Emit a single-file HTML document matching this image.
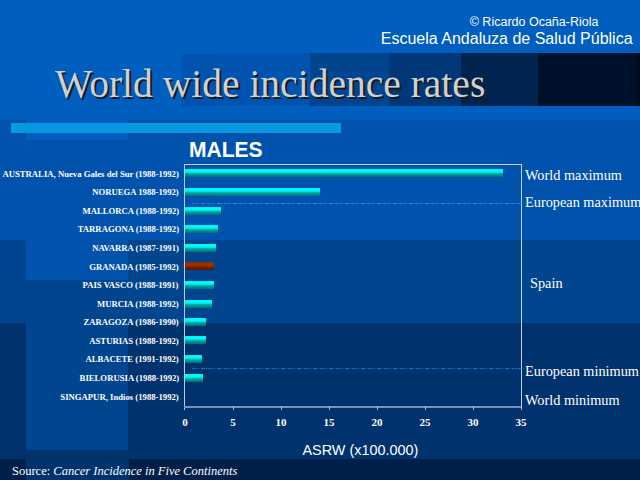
<!DOCTYPE html>
<html><head><meta charset="utf-8">
<style>
*{margin:0;padding:0;box-sizing:border-box}
html,body{width:640px;height:480px;overflow:hidden;background:#005EBE}
body{position:relative;font-family:"Liberation Sans",sans-serif}
.b{position:absolute}
.t{position:absolute;white-space:nowrap;line-height:1;color:#fff}
.serif{font-family:"Liberation Serif",serif}
.lbl{position:absolute;right:461px;white-space:nowrap;line-height:1;color:#fff;font-family:"Liberation Serif",serif;font-weight:bold;font-size:9px;transform:scaleX(0.965);transform-origin:100% 50%}
.bar{position:absolute;left:185px;height:8px;background:linear-gradient(#00E8E8 0%,#00FFFF 15%,#00F0F0 40%,#00B4B4 55%,#009090 75%,#007070 100%)}
.tick{position:absolute;top:406px;width:1px;height:4px;background:#A8B8D4}
.num{position:absolute;top:416.8px;width:20px;margin-left:-10px;text-align:center;line-height:1;color:#fff;font-family:"Liberation Serif",serif;font-weight:bold;font-size:11px}
.ann{position:absolute;left:525px;white-space:nowrap;line-height:1;color:#fff;font-family:"Liberation Serif",serif;font-size:14.3px}
.dash{position:absolute;left:191px;width:333px;height:1px;background:repeating-linear-gradient(90deg,#1496EA 0 4px,transparent 4px 5px,#1496EA 5px 6px,transparent 6px 7px,#1496EA 7px 8px,#0C6CC4 8px 11px,#1496EA 11px 12px,transparent 12px 13px,#1496EA 13px 14px,transparent 14px 16px);background-position:-6px 0}
</style></head><body>
<!-- background blocks -->
<div class="b" style="left:0;top:120px;width:26px;height:120px;background:#0052AC"></div>
<div class="b" style="left:128px;top:120px;width:512px;height:120px;background:#0052AC"></div>
<div class="b" style="left:26px;top:140px;width:102px;height:140px;background:#0052AC"></div>
<div class="b" style="left:0;top:240px;width:26px;height:83px;background:#00458E"></div>
<div class="b" style="left:128px;top:240px;width:512px;height:83px;background:#00458E"></div>
<div class="b" style="left:26px;top:280px;width:102px;height:170px;background:#00458E"></div>
<div class="b" style="left:0;top:323px;width:26px;height:136px;background:#00326E"></div>
<div class="b" style="left:128px;top:323px;width:512px;height:136px;background:#00326E"></div>
<div class="b" style="left:26px;top:450px;width:103px;height:30px;background:#00326E"></div>
<div class="b" style="left:0;top:459px;width:26px;height:21px;background:#00204A"></div>
<div class="b" style="left:129px;top:459px;width:511px;height:21px;background:#00204A"></div>
<!-- title blocks -->
<div class="b" style="left:182px;top:54px;width:37px;height:52px;background:#0053AE"></div>
<div class="b" style="left:219px;top:53px;width:91px;height:52px;background:#0053AE"></div>
<div class="b" style="left:182px;top:105px;width:9px;height:2px;background:#0053AE"></div>
<div class="b" style="left:310px;top:53px;width:79px;height:53px;background:#00458E"></div>
<div class="b" style="left:389px;top:53px;width:72px;height:53px;background:#003778"></div>
<div class="b" style="left:461px;top:53px;width:77px;height:53px;background:#00244F"></div>
<div class="b" style="left:538px;top:53px;width:102px;height:53px;background:#00122B"></div>
<div class="b" style="left:636px;top:53px;width:4px;height:53px;background:#000A1A"></div>
<!-- stripe -->
<div class="b" style="left:11px;top:123px;width:330px;height:10px;background-color:#0898E2;background-image:radial-gradient(ellipse 1px 0.6px,#0A8AD4 60%,transparent 100%),radial-gradient(ellipse 1px 0.6px,#0A8AD4 60%,transparent 100%);background-size:4px 4px;background-position:0 0,2px 2px"></div>

<!-- header text -->
<div class="t" style="left:469.7px;top:16px;font-size:12.5px">© Ricardo Ocaña-Riola</div>
<div class="t" style="left:380.8px;top:31px;font-size:16px">Escuela Andaluza de Salud Pública</div>
<div class="t serif" style="left:55px;top:64px;font-size:40px;color:#D3D1CE;text-shadow:2px 2px 0 #1A1A1A;transform:scaleX(0.988);transform-origin:0 0">World wide incidence rates</div>
<div class="t" style="left:188.5px;top:139.4px;font-size:22px;font-weight:bold;transform:scaleX(0.955);transform-origin:0 0">MALES</div>

<!-- plot frame -->
<div class="b" style="left:184px;top:164px;width:338px;height:1px;background:#C8D0E0"></div>
<div class="b" style="left:184px;top:164px;width:1px;height:246px;background:#C0C8E0"></div>
<div class="b" style="left:521px;top:164px;width:1px;height:244px;background:#C8D0E0"></div>
<div class="b" style="left:184px;top:406px;width:338px;height:2px;background:#7A90BC"></div>
<div class="tick" style="left:233px"></div>
<div class="tick" style="left:281px"></div>
<div class="tick" style="left:329px"></div>
<div class="tick" style="left:377px"></div>
<div class="tick" style="left:425px"></div>
<div class="tick" style="left:473px"></div>
<div class="tick" style="left:521px"></div>

<div class="dash" style="top:203px"></div>
<div class="dash" style="top:368px;opacity:0.75"></div>

<!-- bars -->
<div class="bar" style="top:169px;width:318px"></div>
<div class="bar" style="top:188px;width:135px"></div>
<div class="bar" style="top:207px;width:36px"></div>
<div class="bar" style="top:225px;width:33px"></div>
<div class="bar" style="top:244px;width:31px"></div>
<div class="bar" style="top:262px;width:29px;background:linear-gradient(#8A2E00 0%,#9A3300 30%,#8C2C00 50%,#6A1E00 70%,#5A1800 100%)"></div>
<div class="bar" style="top:281px;width:29px"></div>
<div class="bar" style="top:300px;width:27px"></div>
<div class="bar" style="top:318px;width:21px"></div>
<div class="bar" style="top:336px;width:21px"></div>
<div class="bar" style="top:355px;width:17px"></div>
<div class="bar" style="top:374px;width:18px"></div>

<!-- labels -->
<div class="lbl" style="top:170px">AUSTRALIA, Nueva Gales del Sur (1988-1992)</div>
<div class="lbl" style="top:188px">NORUEGA 1988-1992)</div>
<div class="lbl" style="top:207px">MALLORCA (1988-1992)</div>
<div class="lbl" style="top:225px">TARRAGONA (1988-1992)</div>
<div class="lbl" style="top:244px">NAVARRA (1987-1991)</div>
<div class="lbl" style="top:263px">GRANADA (1985-1992)</div>
<div class="lbl" style="top:281px">PAIS VASCO (1988-1991)</div>
<div class="lbl" style="top:300px">MURCIA (1988-1992)</div>
<div class="lbl" style="top:318px">ZARAGOZA (1986-1990)</div>
<div class="lbl" style="top:337px">ASTURIAS (1988-1992)</div>
<div class="lbl" style="top:355px">ALBACETE (1991-1992)</div>
<div class="lbl" style="top:374px">BIELORUSIA (1988-1992)</div>
<div class="lbl" style="top:393px">SINGAPUR, Indios (1988-1992)</div>

<!-- tick numbers -->
<div class="num" style="left:185px">0</div>
<div class="num" style="left:233px">5</div>
<div class="num" style="left:281px">10</div>
<div class="num" style="left:329px">15</div>
<div class="num" style="left:377px">20</div>
<div class="num" style="left:425px">25</div>
<div class="num" style="left:473px">30</div>
<div class="num" style="left:521px">35</div>

<!-- annotations -->
<div class="ann" style="top:168px">World maximum</div>
<div class="ann" style="top:195px">European maximum</div>
<div class="ann" style="left:530px;top:276px">Spain</div>
<div class="ann" style="top:364px">European minimum</div>
<div class="ann" style="top:393px">World minimum</div>

<div class="t" style="left:302.5px;top:443px;font-size:14.4px">ASRW (x100.000)</div>
<div class="t serif" style="left:12px;top:464.6px;font-size:12.5px">Source: <i>Cancer Incidence in Five Continents</i></div>
</body></html>
